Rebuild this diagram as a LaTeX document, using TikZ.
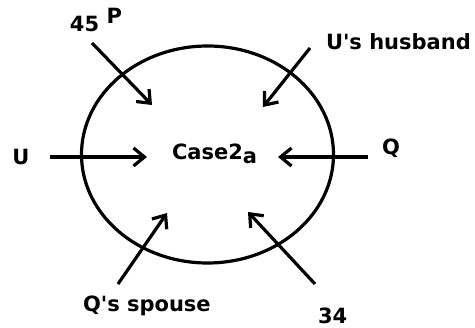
\documentclass[tikz,border=0pt]{standalone}
\usepackage{fontspec}
\setmainfont{DejaVu Sans}[Ligatures=TeXOff]
\usetikzlibrary{arrows.meta,shapes.geometric}
\begin{document}
\begin{tikzpicture}[x=1pt,y=-1pt,
  lbl/.style={inner sep=0pt,outer sep=0pt,font=\fontsize{21}{24}\selectfont\bfseries,text=black},
  arr/.style={line width=3.2pt,-{Straight Barb[length=11pt,width=18pt,line width=3.2pt]}},
  ring/.style={draw,ellipse,line width=3.2pt,inner sep=0pt,outer sep=0pt}]
\useasboundingbox (0,0) rectangle (475,328);
\fill[white] (0,0) rectangle (475,328);
\node[ring,minimum width=252pt,minimum height=217pt] (circ) at (207.5,154.5) {};
% labels
\node[lbl,anchor=base west] (lp) at (70,32) {45 \raisebox{8pt}{P}};
\node[lbl,anchor=base west] (luh) at (326,49.5) {U's husband};
\node[lbl] (lu) at (21,156.5) {U};
\node[lbl,anchor=base west] (lq) at (382,155) {Q};
\node[lbl,anchor=base west] (lc) at (172,160) {Case2\raisebox{-3.5pt}{a}};
\node[lbl,anchor=base west] (lqs) at (83,311.5) {Q's spouse};
\node[lbl,anchor=base west] (l34) at (318,324) {34};
% arrow ends
\coordinate (pS) at (92,43);   \coordinate (pE) at (152,105);
\coordinate (uhS) at (310,48); \coordinate (uhE) at (263,107);
\coordinate (uS) at (50,157);  \coordinate (uE) at (147,157);
\coordinate (qS) at (368,157); \coordinate (qE) at (278,157);
\coordinate (qsS) at (118,284);\coordinate (qsE) at (167,213);
\coordinate (tS) at (315,284); \coordinate (tE) at (248,212);
\draw[arr] (pS) -- (pE);
\draw[arr] (uhS) -- (uhE);
\draw[arr] (uS) -- (uE);
\draw[arr] (qS) -- (qE);
\draw[arr] (qsS) -- (qsE);
\draw[arr] (tS) -- (tE);
\end{tikzpicture}
\end{document}
